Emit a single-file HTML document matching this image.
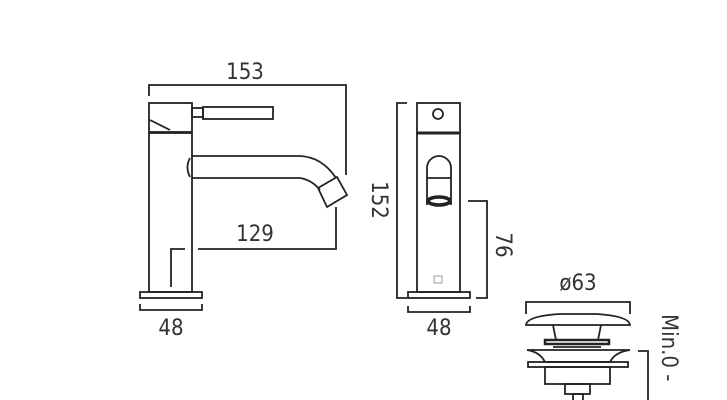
<!DOCTYPE html>
<html><head><style>
html,body{margin:0;padding:0;background:#fff;}
svg{display:block;}
text{font-family:"DejaVu Sans Condensed","Liberation Sans",sans-serif;font-size:22px;fill:#333;}
</style></head><body>
<svg width="727" height="400" viewBox="0 0 727 400" xmlns="http://www.w3.org/2000/svg">
<g fill="none" stroke="#222" stroke-width="1.8">
<!-- side view -->
<polyline points="149,96 149,85 346,85 346,175"/>
<rect x="149" y="103" width="43" height="29"/>
<path d="M150,120 L170,130"/>
<rect x="192" y="108" width="11" height="9"/>
<rect x="203" y="107" width="70" height="12"/>
<rect x="149" y="133" width="43" height="159"/>
<rect x="140" y="292" width="62" height="6"/>
<path d="M192,156 L300,156 Q322,157 336,178"/>
<path d="M192,178 L300,178 Q312,180 320,190"/>
<path d="M190,158 Q185,167 190,177"/>
<polygon points="318,188 337,177 347,195 327,207"/>
<polyline points="140,304 140,310 202,310 202,304"/>
<polyline points="198,249 336,249 336,207"/>
<polyline points="185,249 171,249 171,287"/>
<!-- front view -->
<polyline points="407,103 397,103 397,298 407,298"/>
<rect x="417" y="103" width="43" height="30"/>
<circle cx="438" cy="114" r="5"/>
<rect x="417" y="133" width="43" height="159"/>
<line x1="418" y1="133" x2="459" y2="133" stroke-width="3"/>
<rect x="408" y="292" width="62" height="6"/>
<path d="M427,205 L427,168 A12,12 0 0 1 451,168 L451,205"/>
<line x1="427" y1="178" x2="451" y2="178"/>
<ellipse cx="439" cy="201" rx="11" ry="4" stroke-width="3.5"/>
<rect x="434" y="276" width="8" height="7" stroke-width="0.8" stroke="#888"/>
<polyline points="468,201 487,201 487,298 476,298"/>
<polyline points="408,306 408,312 470,312 470,306"/>
<!-- waste -->
<polyline points="526,314 526,302 630,302 630,314"/>
<path d="M526,325 Q527,316 560,314 L596,314 Q629,316 630,325 Z"/>
<path d="M553,325 L556,340 L598,340 L601,325"/>
<rect x="545" y="340" width="64" height="4" stroke-width="2.5"/>
<line x1="553" y1="347" x2="601" y2="347"/>
<path d="M527,350 L630,350 Q615,352 610,362 L545,362 Q540,352 527,350 Z"/>
<rect x="528" y="362" width="100" height="5"/>
<rect x="545" y="367" width="65" height="17"/>
<rect x="565" y="384" width="25" height="10"/>
<rect x="573" y="394" width="10" height="8"/>
<polyline points="638,351 648,351 648,400"/>
</g>
<text x="245" y="79" text-anchor="middle">153</text>
<text x="255" y="241" text-anchor="middle">129</text>
<text x="171" y="335" text-anchor="middle">48</text>
<text x="439" y="335" text-anchor="middle">48</text>
<text x="578" y="290" text-anchor="middle">ø63</text>
<text transform="translate(372,200) rotate(90)" text-anchor="middle">152</text>
<text transform="translate(496,245) rotate(90)" text-anchor="middle">76</text>
<text transform="translate(662,314) rotate(90)">Min.0 -</text>
</svg>
</body></html>
